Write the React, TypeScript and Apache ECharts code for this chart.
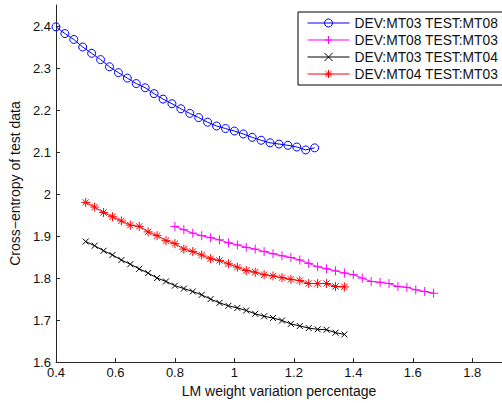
import React, { useEffect, useRef } from "react";
import * as echarts from "echarts";

// ---- data ----
const xTicks = [0.4, 0.6, 0.8, 1.0, 1.2, 1.4, 1.6, 1.8];
const yTicks = [1.6, 1.7, 1.8, 1.9, 2.0, 2.1, 2.2, 2.3, 2.4];

const seriesNames = [
  "DEV:MT03 TEST:MT08",
  "DEV:MT08 TEST:MT03",
  "DEV:MT03 TEST:MT04",
  "DEV:MT04 TEST:MT03",
];

const xBlue = [0.4, 0.43, 0.46, 0.49, 0.52, 0.55, 0.58, 0.61, 0.64, 0.67, 0.7, 0.73, 0.76, 0.79, 0.82, 0.85, 0.88, 0.91, 0.94, 0.97, 1.0, 1.03, 1.06, 1.09, 1.12, 1.15, 1.18, 1.21, 1.24, 1.27];
const yBlue = [2.398, 2.382, 2.368, 2.35, 2.335, 2.32, 2.303, 2.289, 2.276, 2.263, 2.253, 2.239, 2.226, 2.215, 2.203, 2.192, 2.182, 2.171, 2.162, 2.156, 2.15, 2.143, 2.135, 2.128, 2.122, 2.119, 2.116, 2.112, 2.105, 2.11];

const xMagenta = [0.8, 0.83, 0.86, 0.89, 0.92, 0.95, 0.98, 1.01, 1.04, 1.07, 1.1, 1.13, 1.16, 1.19, 1.22, 1.25, 1.28, 1.31, 1.34, 1.37, 1.4, 1.43, 1.46, 1.49, 1.52, 1.55, 1.58, 1.61, 1.64, 1.67];
const yMagenta = [1.923, 1.915, 1.907, 1.901, 1.896, 1.891, 1.884, 1.879, 1.873, 1.869, 1.863, 1.858, 1.853, 1.849, 1.843, 1.835, 1.827, 1.822, 1.817, 1.812, 1.808, 1.8, 1.792, 1.79, 1.787, 1.78, 1.778, 1.772, 1.768, 1.764];

const xRedBlack = [0.5, 0.53, 0.56, 0.59, 0.62, 0.65, 0.68, 0.71, 0.74, 0.77, 0.8, 0.83, 0.86, 0.89, 0.92, 0.95, 0.98, 1.01, 1.04, 1.07, 1.1, 1.13, 1.16, 1.19, 1.22, 1.25, 1.28, 1.31, 1.34, 1.37];
const yBlack = [1.887, 1.877, 1.865, 1.855, 1.843, 1.833, 1.822, 1.812, 1.8, 1.792, 1.782, 1.775, 1.768, 1.76, 1.75, 1.741, 1.734, 1.729, 1.723, 1.715, 1.709, 1.705, 1.699, 1.691, 1.686, 1.681, 1.678, 1.677, 1.67, 1.666];
const yRed = [1.98, 1.969, 1.956, 1.946, 1.936, 1.926, 1.923, 1.91, 1.901, 1.889, 1.882, 1.869, 1.863, 1.855, 1.846, 1.842, 1.834, 1.826, 1.818, 1.814, 1.808, 1.805, 1.801, 1.797, 1.794, 1.787, 1.787, 1.787, 1.78, 1.779];

const zip = (xs: number[], ys: number[]) => xs.map((x, i) => [x, ys[i]]);

const PLUS = "path://M5 0 L5 10 M0 5 L10 5";
const CROSS = "path://M0 0 L10 10 M10 0 L0 10";
const STAR = "path://M5 0 L5 10 M0 5 L10 5 M1.5 1.5 L8.5 8.5 M8.5 1.5 L1.5 8.5";

const FONT = "'Liberation Sans', Arial, Helvetica, sans-serif";
const TXT = "#111";
const AXIS = "#262626";

function mkSeries(name: string, data: number[][], color: string, symbol: string, size: number) {
  return {
    name,
    type: "line",
    data,
    symbol,
    symbolSize: size,
    showSymbol: true,
    lineStyle: { color, width: 1 },
    itemStyle: { color: "rgba(0,0,0,0)", borderColor: color, borderWidth: 1 },
    emphasis: { disabled: true },
    z: 3,
  };
}

export default function App() {
  const ref = useRef<HTMLDivElement>(null);
  useEffect(() => {
    if (!ref.current) return;
    const chart = echarts.init(ref.current, undefined, { renderer: "svg" });
    chart.setOption({
      animation: false,
      backgroundColor: "#fff",
      textStyle: { fontFamily: FONT },
      grid: { left: 52.5, top: 5, width: 460, height: 361, containLabel: false },
      legend: {
        orient: "vertical",
        left: 298,
        top: 12,
        padding: [4, 9, 4, 9],
        itemWidth: 42,
        itemHeight: 10,
        itemGap: 3,
        borderColor: "#000",
        borderWidth: 1,
        backgroundColor: "#fff",
        itemStyle: { borderWidth: 1 },
        lineStyle: { width: 1 },
        textStyle: { fontFamily: FONT, fontSize: 13.8, color: TXT },
        data: seriesNames,
        selectedMode: false,
      },
      xAxis: {
        type: "value",
        min: 0.4,
        max: 1.9,
        name: "LM weight variation percentage",
        nameLocation: "middle",
        nameGap: 19,
        nameTextStyle: { fontFamily: FONT, fontSize: 14, color: TXT },
        axisLine: { show: true, onZero: false, lineStyle: { color: AXIS, width: 1 } },
        axisTick: { show: true, inside: true, length: 4, customValues: xTicks, lineStyle: { color: AXIS } },
        axisLabel: {
          customValues: xTicks,
          margin: 4,
          fontFamily: FONT,
          fontSize: 13,
          color: TXT,
          formatter: (v: number) => String(+v.toFixed(2)),
        },
        splitLine: { show: false },
      },
      yAxis: {
        type: "value",
        min: 1.6,
        max: 2.45,
        name: "Cross\u2212entropy of test data",
        nameLocation: "middle",
        nameGap: 27,
        nameTextStyle: { fontFamily: FONT, fontSize: 14, color: TXT },
        axisLine: { show: true, onZero: false, lineStyle: { color: AXIS, width: 1 } },
        axisTick: { show: true, inside: true, length: 4, customValues: yTicks, lineStyle: { color: AXIS } },
        axisLabel: {
          customValues: yTicks,
          margin: 5,
          fontFamily: FONT,
          fontSize: 13,
          color: TXT,
          formatter: (v: number) => String(+v.toFixed(2)),
        },
        splitLine: { show: false },
      },
      series: [
        mkSeries(seriesNames[0], zip(xBlue, yBlue), "#0000ff", "circle", 8),
        mkSeries(seriesNames[1], zip(xMagenta, yMagenta), "#ff00ff", PLUS, 9),
        mkSeries(seriesNames[2], zip(xRedBlack, yBlack), "#000000", CROSS, 6),
        mkSeries(seriesNames[3], zip(xRedBlack, yRed), "#ff0000", STAR, 9),
      ],
    });
    return () => chart.dispose();
  }, []);
  return (
    <div
      ref={ref}
      style={{ position: "fixed", left: 0, top: 0, width: 502, height: 403, background: "#fff" }}
    />
  );
}
